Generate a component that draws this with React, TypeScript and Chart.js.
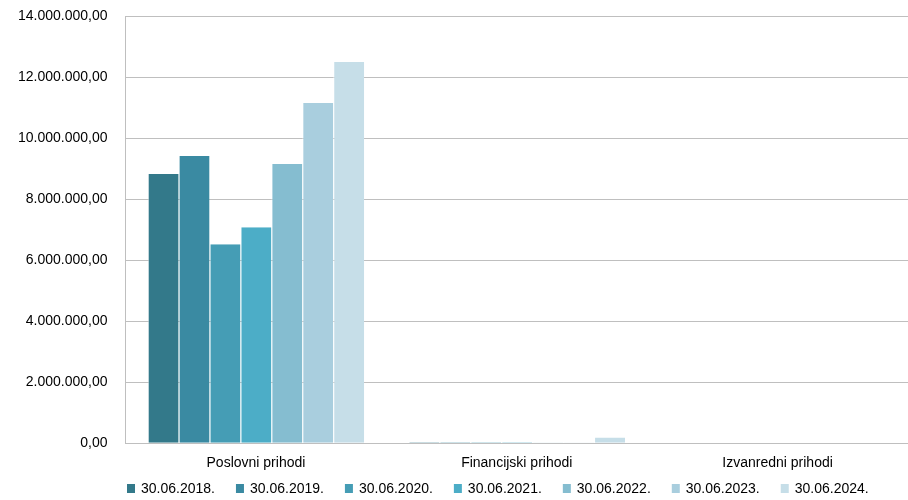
import React, { useEffect, useRef } from "react";
import { Chart, registerables } from "chart.js";

Chart.register(...registerables);

const categories = ["Poslovni prihodi", "Financijski prihodi", "Izvanredni prihodi"];
const seriesLabels = ["30.06.2018.", "30.06.2019.", "30.06.2020.", "30.06.2021.", "30.06.2022.", "30.06.2023.", "30.06.2024."];
const v2018 = [8820000, 30000, 0];
const v2019 = [9410000, 35000, 0];
const v2020 = [6520000, 30000, 0];
const v2021 = [7080000, 30000, 0];
const v2022 = [9150000, 25000, 0];
const v2023 = [11150000, 5000, 0];
const v2024 = [12490000, 190000, 0];
const seriesValues = [v2018, v2019, v2020, v2021, v2022, v2023, v2024];
const colors = ["#33798A", "#3A8AA2", "#459DB5", "#4CADC7", "#85BDD0", "#A9CEDE", "#C6DEE8"];

const FONT_FAMILY = "'Liberation Sans', Arial, sans-serif";

function fmt(v: number): string {
  const s = Math.round(v).toString().replace(/\B(?=(\d{3})+(?!\d))/g, ".");
  return s + ",00";
}

const bottomLegend = {
  id: "bottomLegend",
  afterDraw(chart: any) {
    const ctx = chart.ctx;
    ctx.save();
    ctx.font = `14px ${FONT_FAMILY}`;
    ctx.textBaseline = "middle";
    ctx.textAlign = "left";
    const cy = 488.5;
    let x = 127;
    chart.data.datasets.forEach((ds: any) => {
      ctx.fillStyle = ds.backgroundColor;
      ctx.fillRect(x, cy - 4.5, 8, 9);
      ctx.fillStyle = "#000";
      ctx.fillText(ds.label, x + 14, cy + 1);
      const w = ctx.measureText(ds.label).width;
      x += 14 + w + 21;
    });
    ctx.restore();
  },
};

export default function App() {
  const ref = useRef<HTMLCanvasElement | null>(null);
  useEffect(() => {
    document.body.style.margin = "0";
    if (!ref.current) return;
    const font = { family: FONT_FAMILY, size: 14 };
    const chart = new Chart(ref.current, {
      type: "bar",
      data: {
        labels: categories,
        datasets: seriesLabels.map((l, i) => ({
          label: l,
          data: seriesValues[i],
          backgroundColor: colors[i],
          borderColor: "rgba(255,255,255,0.6)",
          borderWidth: { left: 1, right: 0, top: 0, bottom: 0 },
          categoryPercentage: 0.83,
          barPercentage: 1.0,
        })),
      },
      plugins: [bottomLegend],
      options: {
        animation: false,
        responsive: false,
        maintainAspectRatio: false,
        layout: { padding: { left: 0, right: 0, top: 0, bottom: 16 } },
        plugins: {
          tooltip: { enabled: false },
          legend: { display: false },
        },
        scales: {
          x: {
            grid: { display: false, drawTicks: false },
            border: { display: true, color: "#BFBFBF" },
            ticks: { color: "#000", font, padding: 12 },
          },
          y: {
            min: 0,
            max: 14000000,
            grid: { color: "#BFBFBF", drawTicks: false },
            border: { display: true, color: "#BFBFBF" },
            afterFit: (scale: any) => {
              scale.paddingTop = 16;
            },
            ticks: {
              stepSize: 2000000,
              color: "#000",
              font,
              padding: 18,
              callback: (v: any) => fmt(Number(v)),
            },
          },
        },
      },
    });
    return () => chart.destroy();
  }, []);
  return (
    <div style={{ width: 908, height: 500 }}>
      <canvas ref={ref} width={908} height={500} />
    </div>
  );
}
